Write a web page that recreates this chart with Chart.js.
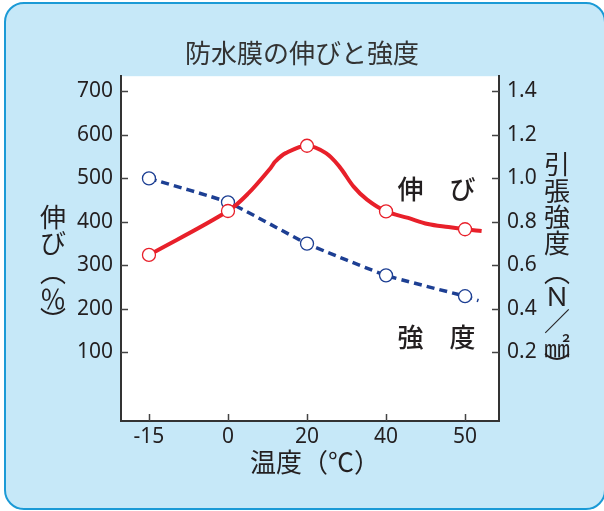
<!DOCTYPE html>
<html lang="ja">
<head>
<meta charset="UTF-8">
<title>防水膜の伸びと強度</title>
<style>
  html, body { margin: 0; padding: 0; background: #fff; overflow: hidden; }
  .frame {
    position: absolute; left: 4px; top: 2px; width: 602px; height: 508px;
    box-sizing: border-box; background: #c6e8f8;
    border: 2px solid #1b9ad6; border-radius: 20px;
  }
  #chart { position: absolute; left: 0; top: 0; }
</style>
<script src="https://cdn.jsdelivr.net/npm/chart.js"></script>
</head>
<body>
<div class="frame"></div>
<canvas id="chart" width="604" height="511"></canvas>
<script>
// categories (temperature, evenly spaced on the chart)
const categories = ['-15', '0', '20', '40', '50'];

// 伸び (%) at each temperature - left axis
const elongation = [324, 425, 575, 424, 383];
// 強度 (N/mm2) at each temperature - right axis
const strength = [1.00, 0.89, 0.70, 0.554, 0.458];

// drawn curve of 伸び (x = category position)
const elongCurvePos = [0, 1, 1.26, 1.54, 1.60, 1.73, 2, 2.24, 2.41, 2.59, 2.76, 3, 3.28, 3.53, 3.79, 4, 4.21];
const elongCurveVal = [324, 425, 466, 524, 539, 558, 575, 558, 527, 481, 451, 424, 409, 395, 388, 383, 379];
// drawn curve of 強度
const strengthCurvePos = [0, 1, 2, 3, 4, 4.17];
const strengthCurveVal = [1.00, 0.89, 0.70, 0.554, 0.458, 0.438];

const leftTicks = [100, 200, 300, 400, 500, 600, 700];
const rightTicks = [0.2, 0.4, 0.6, 0.8, 1.0, 1.2, 1.4];

const RED = '#e8202a';
const BLUE = '#1d3f93';
const INK = '#231f20';
const JP = "'Noto Sans CJK JP', 'Noto Sans', sans-serif";

const pts = (xs, ys) => xs.map((x, i) => ({ x: x, y: ys[i] }));

// white plot area, inward tick marks, vertical titles and in-plot labels
const decorations = {
  id: 'decorations',
  beforeDraw(chart) {
    const a = chart.chartArea, ctx = chart.ctx;
    ctx.save();
    ctx.fillStyle = '#fff';
    ctx.fillRect(a.left, a.top, a.right - a.left, a.bottom - a.top);
    ctx.restore();
  },
  afterDraw(chart) {
    const a = chart.chartArea, ctx = chart.ctx;
    const sx = chart.scales.x, sy = chart.scales.y, sy2 = chart.scales.y2;
    ctx.save();
    ctx.strokeStyle = '#444';
    ctx.lineWidth = 1.5;
    ctx.beginPath();
    sy.ticks.forEach(t => {
      const y = Math.round(sy.getPixelForValue(t.value)) + 0.5;
      ctx.moveTo(a.left, y); ctx.lineTo(a.left + 7, y);
    });
    sy2.ticks.forEach(t => {
      const y = Math.round(sy2.getPixelForValue(t.value)) + 0.5;
      ctx.moveTo(a.right, y); ctx.lineTo(a.right - 7, y);
    });
    sx.ticks.forEach(t => {
      const x = Math.round(sx.getPixelForValue(t.value)) + 0.5;
      ctx.moveTo(x, a.bottom); ctx.lineTo(x, a.bottom - 7);
    });
    ctx.stroke();

    ctx.fillStyle = INK;
    ctx.textAlign = 'center';
    ctx.textBaseline = 'middle';
    ctx.font = '26px ' + JP;
    // left title, stacked
    [['伸', 217], ['び', 243.5], ['︵', 272], ['％', 299], ['︶', 320]].forEach(c => ctx.fillText(c[0], 53, c[1]));
    // right title, stacked
    [['引', 164], ['張', 191], ['強', 217], ['度', 243.5], ['︵', 272], ['Ｎ', 296], ['／', 321], ['㎟', 347], ['︶', 365]]
      .forEach(c => ctx.fillText(c[0], 557, c[1]));
    // x title
    ctx.textAlign = 'left';
    ctx.fillText('温度（℃）', 250, 462);
    // series labels
    ctx.textAlign = 'center';
    ctx.font = '500 26px ' + JP;
    ctx.fillText('伸　び', 436.5, 189);
    ctx.fillText('強　度', 436.5, 337.5);
    ctx.restore();
  }
};

const tickFont = { family: "'Noto Sans', sans-serif", size: 21 };

new Chart(document.getElementById('chart'), {
  type: 'line',
  data: {
    datasets: [
      {
        label: '伸び',
        data: pts(elongCurvePos, elongCurveVal),
        yAxisID: 'y', borderColor: RED, borderWidth: 4,
        pointRadius: 0, tension: 0.35, order: 1
      },
      {
        label: '伸び marker',
        data: pts([0, 1, 2, 3, 4], elongation),
        yAxisID: 'y', showLine: false,
        pointRadius: 6.5, pointBackgroundColor: '#fff', pointBorderColor: RED, pointBorderWidth: 1.3,
        order: 0
      },
      {
        label: '強度',
        data: pts(strengthCurvePos, strengthCurveVal),
        yAxisID: 'y2', borderColor: BLUE, borderWidth: 3.5, borderDash: [8, 5],
        pointRadius: 0, tension: 0.15, order: 3
      },
      {
        label: '強度 marker',
        data: pts([0, 1, 2, 3, 4], strength),
        yAxisID: 'y2', showLine: false,
        pointRadius: 6.5, pointBackgroundColor: '#fff', pointBorderColor: BLUE, pointBorderWidth: 1.3,
        order: 2
      }
    ]
  },
  options: {
    responsive: false,
    animation: false,
    events: [],
    layout: { padding: 0 },
    plugins: {
      legend: { display: false },
      tooltip: { enabled: false },
      title: {
        display: true,
        text: '防水膜の伸びと強度',
        color: '#333',
        font: { family: JP, size: 26, weight: 'normal' },
        padding: { top: 38, bottom: 7 }
      }
    },
    scales: {
      x: {
        type: 'linear', min: -0.354, max: 4.43,
        grid: { display: false, drawTicks: false },
        border: { color: '#333', width: 2 },
        ticks: { font: tickFont, color: INK, padding: 3, maxRotation: 0,
                 callback: v => categories[v] },
        afterBuildTicks: s => { s.ticks = categories.map((c, i) => ({ value: i })); },
        afterFit: s => { s.height = 90; }
      },
      y: {
        position: 'left', min: -58, max: 735,
        grid: { display: false, drawTicks: false },
        border: { color: '#333', width: 2 },
        ticks: { font: tickFont, color: INK, padding: 8 },
        afterBuildTicks: s => { s.ticks = leftTicks.map(v => ({ value: v })); },
        afterFit: s => { s.width = 121; }
      },
      y2: {
        position: 'right', min: -0.116, max: 1.47,
        grid: { display: false, drawTicks: false },
        border: { color: '#333', width: 2 },
        ticks: { font: tickFont, color: INK, padding: 8, callback: v => v.toFixed(1) },
        afterBuildTicks: s => { s.ticks = rightTicks.map(v => ({ value: v })); },
        afterFit: s => { s.width = 105; }
      }
    }
  },
  plugins: [decorations]
});
</script>
</body>
</html>
